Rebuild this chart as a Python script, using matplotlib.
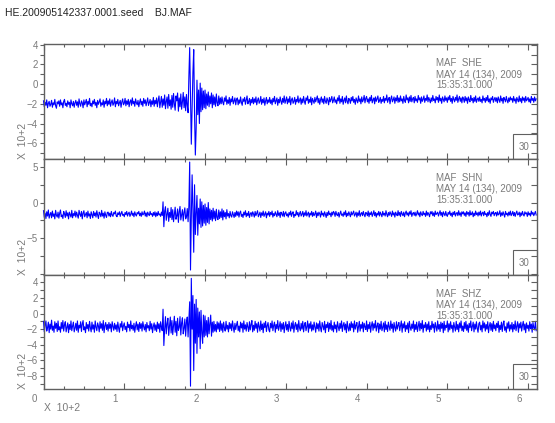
import numpy as np
import matplotlib
matplotlib.use("Agg")
import matplotlib.pyplot as plt
from matplotlib.ticker import MultipleLocator
from matplotlib.patches import Rectangle
from matplotlib.transforms import ScaledTranslation

# ---------------- data (counts; axes show value x 10^2) ----------------
sample_step_s = 1          # seconds between samples
title_text = "HE.200905142337.0001.seed    BJ.MAF"
station = "MAF"
channels = ["SHE", "SHN", "SHZ"]
date_text = "MAY 14 (134), 2009"
time_text = "15:35:31.000"
scale_box = "30"
x_ticks = [0, 1, 2, 3, 4, 5, 6]

she = [
    -170, -230, -185, -215, -160, -240, -195, -175, -225, -205, -165, -235, -190, -210, -155, -220, -245, -180, -200, -170,
    -225, -160, -210, -190, -240, -175, -155, -215, -195, -230, -170, -205, -185, -240, -160, -200, -220, -175, -235, -190,
    -165, -215, -180, -235, -150, -200, -225, -170, -190, -240, -160, -210, -185, -155, -230, -175, -205, -145, -220, -195,
    -230, -170, -200, -155, -215, -185, -240, -165, -205, -180, -150, -225, -190, -210, -160, -235, -175, -200, -145, -220,
    -170, -205, -150, -225, -185, -160, -215, -195, -140, -230, -175, -200, -155, -220, -190, -165, -235, -180, -150, -210,
    -195, -145, -220, -170, -205, -155, -230, -180, -160, -215, -140, -200, -175, -225, -150, -190, -210, -165, -230, -185,
    -150, -210, -175, -225, -145, -195, -160, -220, -180, -140, -215, -190, -155, -230, -170, -205, -135, -225, -165, -200,
    -140, -230, -165, -120, -240, -185, -125, -235, -150, -215, -110, -250, -175, -130, -245, -105, -220, -160, -255, -115,
    -235, -95, -200, -265, -120, -170, -90, -275, -140, -230, -100, -255, -180, -85, -240, -130, -270, -105, -215, -290,
    80, 370, -100, -610, -250, 120, 350, -300, -720, -450, 40, -310, -60, -400, 10, -280, -40, -260, -70, -240,
    -60, -250, -100, -215, -80, -230, -120, -200, -90, -240, -110, -210, -130, -225, -100, -190, -220, -120, -205, -140,
    -200, -130, -185, -210, -140, -175, -120, -205, -160, -195, -135, -215, -150, -180, -125, -200, -170, -140, -210, -155,
    -140, -210, -160, -195, -130, -185, -215, -150, -175, -135, -205, -165, -120, -200, -180, -145, -215, -155, -190, -135,
    -200, -150, -185, -130, -210, -165, -140, -195, -175, -125, -205, -155, -190, -140, -215, -170, -135, -200, -160, -185,
    -135, -195, -160, -210, -145, -180, -125, -200, -170, -140, -215, -155, -190, -130, -175, -205, -145, -185, -120, -195,
    -165, -130, -200, -150, -185, -125, -210, -160, -140, -195, -175, -135, -205, -155, -180, -120, -190, -165, -140, -205,
    -150, -190, -125, -175, -205, -140, -165, -120, -195, -155, -185, -130, -210, -145, -170, -195, -135, -180, -150, -120,
    -190, -145, -205, -160, -130, -185, -150, -200, -125, -175, -195, -140, -165, -210, -135, -180, -155, -125, -190, -165,
    -130, -185, -160, -200, -140, -170, -115, -195, -150, -180, -125, -205, -165, -140, -190, -120, -175, -200, -145, -160,
    -195, -135, -170, -125, -185, -155, -205, -140, -165, -190, -120, -175, -150, -200, -130, -180, -160, -115, -190, -145,
    -125, -180, -150, -195, -135, -170, -115, -190, -160, -140, -200, -130, -175, -150, -120, -185, -165, -135, -195, -155,
    -175, -125, -190, -145, -165, -110, -185, -155, -135, -200, -150, -120, -180, -160, -130, -195, -140, -170, -115, -185,
    -140, -180, -120, -170, -150, -195, -125, -165, -185, -110, -160, -140, -190, -130, -175, -115, -180, -150, -135, -190,
    -125, -170, -150, -185, -115, -160, -140, -195, -130, -175, -155, -120, -185, -145, -165, -110, -180, -135, -160, -190,
    -140, -175, -115, -165, -150, -190, -125, -160, -135, -185, -110, -170, -145, -195, -130, -155, -180, -120, -165, -140,
    -185, -130, -160, -115, -175, -145, -195, -125, -155, -180, -135, -165, -110, -185, -150, -125, -175, -140, -190, -130,
    -150, -185, -125, -170, -140, -195, -130, -160, -180, -115, -165, -145, -190, -135, -175, -120, -185, -155, -140, -175,
    -130, -175, -155, -190, -120, -165, -145, -185, -135, -170, -115, -180, -150, -195, -140, -160, -125, -185, -155, -135,
    -175, -140, -190, -130, -160, -185, -120, -170, -145, -195, -135, -155, -180, -125, -165, -190, -140, -175, -130, -160,
    -145, -185, -125, -170, -150, -195, -135, -160, -180, -120, -175, -145, -190, -130, -165, -140, -185, -125, -170, -155,
    -135, -180, -150, -190, -125, -165, -145, -185, -130, -170, -150,
]

shn = [
    -115, -210, -150, -225, -130, -190, -105, -220, -170, -140, -215, -120, -195, -160, -230, -110, -180, -205, -135, -220,
    -150, -105, -200, -175, -225, -125, -160, -210, -115, -190, -145, -230, -135, -170, -205, -110, -215, -155, -185, -120,
    -205, -135, -180, -220, -110, -165, -195, -125, -230, -150, -115, -200, -170, -140, -215, -120, -190, -160, -225, -130,
    -170, -215, -125, -185, -145, -205, -115, -175, -225, -135, -160, -200, -110, -190, -150, -220, -130, -180, -210, -140,
    -135, -190, -150, -200, -125, -175, -195, -140, -160, -120, -185, -200, -145, -170, -130, -195, -155, -125, -180, -165,
    -200, -140, -170, -125, -190, -155, -135, -195, -165, -120, -180, -150, -200, -130, -170, -190, -140, -160, -125, -185,
    -150, -195, -130, -175, -160, -120, -190, -145, -200, -135, -165, -185, -125, -170, -155, -195, -140, -180, -130, -200,
    -145, -185, -125, -175, -160, -195, -135, -180, 10, -340, -120, -60, -250, -170, -80, -265, -140, -210, -70, -240,
    -100, -270, -160, -65, -235, -190, -90, -280, -130, -55, -245, -175, -100, -260, -140, -75, -230, -200, -85, -270,
    -50, 570, -950, -200, 390, -100, -700, 250, -450, -150, 100, -460, -80, -300, 50, -350, 10, -330, -40, -290,
    -20, -320, -70, -280, 0, -300, -90, -240, -110, -260, -80, -230, -120, -255, -95, -215, -240, -105, -225, -130,
    -210, -90, -245, -115, -200, -140, -230, -100, -190, -155, -215, -125, -185, -205, -130, -170, -210, -140, -195, -120,
    -180, -130, -205, -145, -120, -195, -165, -210, -135, -175, -115, -200, -150, -185, -125, -210, -160, -140, -195, -130,
    -160, -205, -125, -185, -150, -115, -200, -170, -135, -210, -145, -180, -120, -195, -160, -130, -215, -150, -175, -125,
    -195, -140, -170, -120, -205, -155, -185, -130, -165, -200, -115, -180, -145, -210, -135, -160, -190, -125, -200, -150,
    -130, -185, -160, -205, -140, -175, -120, -195, -150, -130, -210, -165, -185, -115, -175, -140, -200, -155, -125, -190,
    -165, -125, -200, -145, -180, -115, -190, -160, -135, -205, -150, -175, -125, -195, -140, -185, -160, -120, -210, -145,
    -185, -135, -160, -205, -120, -175, -150, -195, -130, -165, -210, -140, -185, -120, -170, -150, -200, -135, -175, -125,
    -145, -195, -125, -170, -185, -140, -205, -155, -120, -180, -160, -195, -135, -175, -115, -200, -150, -185, -130, -165,
    -200, -130, -175, -150, -120, -190, -165, -135, -205, -145, -180, -115, -195, -160, -140, -185, -125, -170, -200, -140,
    -150, -185, -120, -200, -145, -170, -130, -195, -160, -115, -185, -140, -205, -150, -175, -125, -190, -135, -165, -200,
    -125, -175, -150, -190, -115, -165, -200, -140, -180, -130, -160, -195, -120, -175, -145, -205, -135, -165, -185, -115,
    -180, -140, -195, -125, -160, -185, -135, -200, -150, -120, -175, -145, -190, -130, -165, -115, -195, -155, -140, -180,
    -135, -190, -160, -115, -175, -145, -200, -130, -165, -185, -125, -170, -150, -195, -120, -180, -140, -165, -200, -130,
    -160, -125, -185, -145, -195, -120, -170, -155, -135, -190, -150, -115, -180, -140, -200, -130, -160, -185, -125, -175,
    -195, -140, -165, -120, -180, -150, -200, -135, -170, -125, -190, -155, -140, -185, -115, -175, -145, -195, -130, -160,
    -130, -180, -145, -195, -125, -165, -140, -190, -115, -175, -160, -130, -200, -150, -185, -120, -170, -145, -190, -135,
    -175, -120, -190, -150, -135, -185, -125, -170, -155, -200, -140, -180, -115, -165, -195, -135, -160, -125, -185, -150,
    -140, -190, -130, -175, -160, -115, -195, -145, -180, -130, -165, -205, -125, -170, -150, -190, -135, -175, -120, -185,
    -160, -125, -185, -140, -195, -150, -120, -175, -165, -135, -200, -145, -180, -125, -170, -190, -130, -160, -145, -195,
    -130, -175, -150, -190, -120, -165, -140, -185, -155, -125, -175,
]

shz = [
    -100, -235, -150, -95, -225, -180, -110, -245, -135, -200, -85, -215, -160, -240, -105, -190, -125, -230, -95, -210,
    -170, -240, -115, -195, -90, -225, -145, -105, -235, -175, -120, -245, -140, -205, -95, -220, -160, -110, -235, -185,
    -125, -215, -95, -240, -150, -185, -105, -230, -135, -90, -210, -170, -245, -115, -195, -140, -225, -100, -180, -235,
    -110, -200, -145, -240, -95, -175, -220, -120, -160, -235, -105, -190, -130, -215, -90, -245, -155, -115, -205, -140,
    -225, -115, -190, -135, -235, -105, -165, -215, -125, -200, -145, -230, -110, -185, -240, -130, -175, -100, -220, -155,
    -120, -205, -165, -235, -110, -180, -140, -225, -95, -195, -150, -215, -125, -240, -160, -105, -210, -135, -230, -115,
    -190, -130, -225, -105, -170, -210, -140, -235, -115, -185, -155, -220, -100, -200, -130, -245, -165, -120, -215, -145,
    -230, -110, -195, -130, -240, -105, -175, -220, 55, -410, -200, -40, -260, -130, -60, -280, -170, -45, -250, -90,
    -270, -150, -35, -240, -100, -285, -60, -215, -180, -40, -275, -120, -55, -260, -190, -70, -290, -110, -45, -300,
    -60, 150, -930, 450, -200, 230, -730, 120, -380, 180, -510, 70, -300, 20, -450, 40, -250, -380, -20, -300,
    -30, -280, -90, -300, -50, -260, -130, -20, -290, -110, -240, -100, -225, -140, -235, -105, -200, -120, -230, -95,
    -215, -130, -240, -110, -185, -225, -100, -200, -150, -235, -115, -195, -130, -220, -95, -175, -240, -125, -205, -145,
    -100, -220, -160, -235, -110, -185, -125, -240, -95, -200, -145, -225, -115, -175, -230, -105, -210, -140, -90, -235,
    -150, -215, -100, -190, -130, -240, -110, -170, -225, -95, -205, -135, -245, -120, -180, -100, -230, -155, -115, -210,
    -235, -125, -185, -95, -220, -150, -110, -240, -140, -195, -90, -215, -165, -105, -230, -130, -200, -115, -245, -160,
    -105, -210, -140, -230, -100, -180, -225, -120, -195, -95, -240, -155, -115, -205, -135, -235, -90, -185, -220, -125,
    -200, -100, -235, -150, -115, -220, -170, -95, -240, -130, -190, -105, -225, -145, -210, -110, -175, -240, -120, -195,
    -130, -225, -95, -185, -235, -115, -160, -210, -100, -245, -140, -180, -110, -230, -125, -200, -90, -215, -155, -235,
    -110, -195, -145, -240, -105, -170, -220, -125, -190, -95, -230, -150, -115, -210, -135, -245, -100, -180, -225, -130,
    -215, -105, -180, -130, -235, -95, -200, -150, -115, -240, -165, -100, -225, -140, -190, -110, -235, -125, -170, -205,
    -95, -230, -140, -195, -110, -240, -155, -105, -215, -130, -185, -90, -225, -160, -120, -245, -135, -200, -100, -220,
    -175, -120, -235, -100, -205, -145, -230, -110, -170, -215, -95, -190, -135, -240, -115, -180, -225, -105, -200, -150,
    -115, -220, -160, -95, -240, -130, -185, -105, -230, -150, -200, -120, -245, -100, -175, -215, -135, -190, -95, -235,
    -140, -205, -110, -230, -165, -100, -220, -125, -195, -90, -240, -145, -180, -115, -225, -135, -205, -105, -235, -155,
    -205, -100, -185, -135, -240, -115, -170, -225, -95, -200, -140, -230, -110, -190, -125, -245, -100, -215, -150, -180,
    -95, -235, -130, -210, -105, -190, -150, -240, -115, -175, -225, -100, -205, -140, -235, -120, -185, -95, -220, -160,
    -230, -115, -195, -100, -215, -145, -240, -125, -180, -95, -220, -165, -110, -235, -135, -200, -105, -190, -240, -130,
    -110, -210, -150, -235, -95, -185, -120, -225, -140, -200, -105, -245, -160, -115, -215, -130, -230, -100, -195, -145,
    -220, -125, -180, -100, -240, -150, -205, -110, -230, -135, -95, -215, -170, -240, -120, -190, -105, -225, -145, -200,
    -115, -235, -140, -200, -95, -220, -165, -105, -240, -130, -185, -110, -225, -150, -100, -210, -135, -245, -120, -190,
    -150, -225, -105, -195, -135, -240, -115, -180, -210, -100, -220,
]

traces = [she, shn, shz]
y_limits = [(-7.6, 4.02), (-10.2, 6.13), (-9.66, 4.93)]
y_labels = [[-6, -4, -2, 0, 2, 4], [-5, 0, 5], [-8, -6, -4, -2, 0, 2, 4]]
y_minor = [1, 2.5, 1]

# ---------------- layout ----------------
W, H = 555, 423
fig = plt.figure(figsize=(W / 100, H / 100), dpi=100)
plt.rcParams["font.family"] = ["Liberation Sans", "DejaVu Sans"]

left_px, right_px = 43.5, 537
panels_px = [(44.5, 159), (159, 275), (275, 389)]
gray = "#7a7a7a"
frame = "#606060"

for i, (top_px, bot_px) in enumerate(panels_px):
    ax = fig.add_axes([left_px / W, (H - bot_px) / H,
                       (right_px - left_px) / W, (bot_px - top_px) / H])
    w_px = right_px - left_px
    h_px = bot_px - top_px

    n = len(traces[i])
    t = np.arange(n) * sample_step_s / 100.0
    y = np.asarray(traces[i], dtype=float) / 100.0
    ax.plot(t, y, color="#0000ff", lw=0.8, clip_on=False)

    ax.set_xlim(0, 6.11)
    ax.set_ylim(*y_limits[i])
    ax.xaxis.set_major_locator(MultipleLocator(1))
    ax.xaxis.set_minor_locator(MultipleLocator(0.25))
    ax.set_yticks(y_labels[i])
    ax.yaxis.set_minor_locator(MultipleLocator(y_minor[i]))
    ax.tick_params(axis="x", which="both", direction="in", top=True, bottom=True,
                   color=frame, labelsize=7, labelcolor=gray, width=0.8)
    ax.tick_params(axis="x", which="major", length=4.5)
    ax.tick_params(axis="x", which="minor", length=2.5)
    ax.tick_params(axis="y", which="both", direction="out", left=True, right=False,
                   color=frame, labelsize=7, labelcolor=gray, length=3, width=0.8, pad=1)
    for s in ax.spines.values():
        s.set_color(frame)
        s.set_linewidth(1.0)

    # right-side inward ticks
    tw = ax.twinx()
    tw.set_ylim(*y_limits[i])
    tw.yaxis.set_major_locator(MultipleLocator(y_minor[i]))
    tw.yaxis.set_minor_locator(MultipleLocator(y_minor[i]))
    tw.tick_params(axis="y", which="both", direction="in", length=4, color=frame,
                   labelright=False, width=0.8)
    for s in tw.spines.values():
        s.set_visible(False)

    if i < 2:
        ax.tick_params(axis="x", labelbottom=False)
    else:
        ax.set_xticks(x_ticks)
        off = ScaledTranslation(-0.09, 0, fig.dpi_scale_trans)
        for lab in ax.get_xticklabels():
            lab.set_transform(lab.get_transform() + off)

    # station annotation
    xa = (436 - left_px) / w_px
    for txt, dy in [(f"{station}  {channels[i]}", 19), (date_text, 30), (time_text, 41)]:
        ax.text(xa, 1 - dy / h_px, txt, transform=ax.transAxes, fontsize=7,
                color=gray, ha="left", va="center")

    # scale box
    bw, bh = 24 / w_px, 25 / h_px
    ax.add_patch(Rectangle((1 - bw, 0), bw, bh, transform=ax.transAxes,
                           fill=False, ec=frame, lw=0.8, clip_on=False, zorder=5))
    ax.text(1 - 13 / w_px, 12 / h_px, scale_box, transform=ax.transAxes,
            fontsize=7, color=gray, ha="center", va="center", zorder=6)

    # y multiplier label
    ax.text((23 - left_px) / w_px, 0.0, "X  10+2", transform=ax.transAxes,
            rotation=90, fontsize=7.5, color=gray, ha="center", va="bottom")

fig.text(44 / W, 1 - 408 / H, "X  10+2", fontsize=7.5, color=gray, ha="left", va="center")
fig.text(5 / W, 1 - 13 / H, title_text, fontsize=7.5, color="#222222", ha="left", va="center")

fig.savefig("out.png", dpi=100)
